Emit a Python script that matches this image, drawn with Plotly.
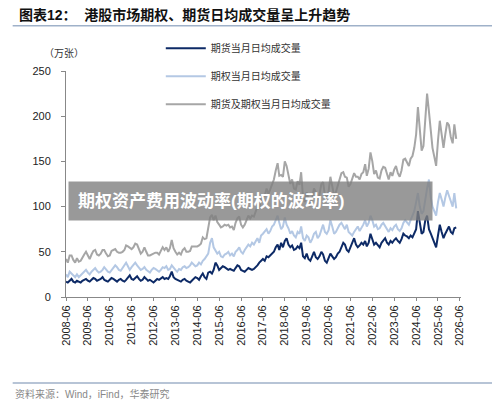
import plotly.graph_objects as go
import pandas as pd

futures = {
2008:[17,16,18,20,17,16,18],
2009:[17,16,18,19,20,18,17,19,21,20,18,19],
2010:[20,22,19,18,17,19,21,20,18,17,19,20],
2011:[18,17,19,22,24,20,19,21,23,20,18,19],
2012:[22,20,18,19,17,16,18,20,19,21,22,20],
2013:[21,20,23,28,22,20,19,18,17,19,20,18],
2014:[17,16,18,20,22,21,19,23,26,22,20,27],
2015:[28,26,30,38,35,30,32,34,33,31,30,31],
2016:[30,29,32,35,34,30,29,28,30,32,31,30],
2017:[31,33,35,38,40,42,40,45,44,46,48,50],
2018:[55,58,52,60,55,62,65,58,55,57,52,53],
2019:[56,54,60,45,43,48,42,40,45,50,44,42],
2020:[45,50,47,40,38,43,48,45,42,44,48,50],
2021:[55,60,58,52,50,55,62,65,58,55,57,60],
2022:[58,62,56,60,70,65,58,60,57,55,60,62],
2023:[65,60,58,62,60,63,65,62,60,64,70,68],
2024:[67,65,68,66,70,75,95,80,70,72,85,90],
2025:[75,70,65,60,55,68,80,72,65,70,75,78],
2026:[72,70,76,77],
}
options = {
2008:[25,22,28,26,24,22,25],
2009:[22,24,26,28,30,27,25,28,30,32,29,27],
2010:[28,30,33,30,28,27,30,32,35,33,30,29],
2011:[32,35,38,34,30,33,36,38,35,32,30,31],
2012:[33,30,28,27,30,32,31,29,28,30,33,32],
2013:[34,30,31,35,32,30,28,31,30,33,34,32],
2014:[33,35,38,36,34,35,38,36,40,42,45,48],
2015:[60,65,55,52,48,50,45,44,47,48,50,46],
2016:[48,45,50,52,55,50,48,52,55,58,56,60],
2017:[58,62,65,60,68,70,72,75,70,73,78,80],
2018:[85,90,82,75,78,88,80,76,70,73,68,66],
2019:[72,70,78,65,62,68,66,60,64,70,72,65],
2020:[68,75,80,72,70,74,85,78,70,72,76,80],
2021:[82,78,75,80,72,70,68,72,75,78,73,76],
2022:[80,85,78,82,90,85,78,80,75,76,80,82],
2023:[78,75,72,76,74,78,80,75,73,76,82,85],
2024:[82,80,85,90,95,105,115,100,92,95,110,120],
2025:[130,110,100,95,90,105,115,108,100,110,118,112],
2026:[105,100,115,98],
}
total = {
2008:[42,38,46,46,41,38,43],
2009:[39,40,44,47,50,45,42,47,51,52,47,46],
2010:[48,52,52,48,45,46,51,52,53,50,49,49],
2011:[50,52,57,56,54,53,55,59,58,52,48,50],
2012:[55,50,46,46,47,48,49,49,47,51,55,52],
2013:[55,50,54,63,54,50,47,49,47,52,54,50],
2014:[50,51,56,56,56,56,57,59,66,64,65,75],
2015:[88,91,85,90,83,80,77,78,80,79,80,77],
2016:[78,74,82,87,89,80,77,80,85,90,87,90],
2017:[89,95,100,98,108,112,112,120,114,119,126,130],
2018:[140,148,134,135,133,150,145,134,125,130,120,119],
2019:[128,124,138,110,105,116,108,100,109,120,116,107],
2020:[113,125,127,112,108,117,133,123,112,116,124,130],
2021:[137,138,133,132,122,125,130,137,133,133,130,136],
2022:[138,147,134,142,160,150,136,140,132,131,140,144],
2023:[143,135,130,138,134,141,145,137,133,140,152,153],
2024:[149,145,153,156,165,180,210,180,162,167,195,225],
2025:[205,180,165,155,145,173,195,180,165,180,193,190],
2026:[177,170,191,175],
}
names = ["期货当月日均成交量", "期权当月日均成交量", "期货及期权当月日均成交量"]
colors = ["#0d2a66", "#b4c8e4", "#a6a6a6"]
tick_labels = [f"{y}-06" for y in range(2008, 2027)]

def flatten(d):
    xs, ys = [], []
    for yr, vals in d.items():
        start = 6 if yr == 2008 else 1
        for i, v in enumerate(vals):
            xs.append(f"{yr}-{start+i:02d}-01")
            ys.append(v)
    return xs, ys

fig = go.Figure()
for i, (d, n, c) in enumerate(zip([futures, options, total], names, colors)):
    xs, ys = flatten(d)
    fig.add_trace(go.Scatter(x=xs, y=ys, name=n, mode="lines", legendgroup=f"g{i}",
                             line=dict(color=c, width=2)))

font = "Liberation Sans, Noto Sans CJK SC"
fig.update_layout(
    width=500, height=406, margin=dict(l=58, r=47, t=63, b=117, autoexpand=False),
    paper_bgcolor="white", plot_bgcolor="white",
    font=dict(family=font, size=11, color="#222"),
    showlegend=True,
    legend=dict(x=0.24, y=1.165, xanchor="left", yanchor="top", bgcolor="rgba(0,0,0,0)",
                font=dict(size=10, color="#333"), tracegroupgap=9, itemwidth=40),
    xaxis=dict(type="date", range=["2008-06-01", "2026-06-20"], automargin=False,
               tickvals=[t + "-01" for t in tick_labels], ticktext=tick_labels,
               tickangle=-90, showgrid=False, showline=True, linecolor="#888",
               ticks="outside", ticklen=3, tickcolor="#888", tickfont=dict(size=11)),
    yaxis=dict(range=[0, 250], dtick=50, showgrid=False, showline=True, linecolor="#888", automargin=False,
               ticks="outside", ticklen=4, tickcolor="#888", tickfont=dict(size=11), ticklabelstandoff=8),
    annotations=[
        dict(text="<b>图表12：  港股市场期权、期货日均成交量呈上升趋势</b>", xref="paper", yref="paper",
             x=-0.125, y=1.248, xanchor="left", yanchor="middle", showarrow=False,
             font=dict(size=14, color="#111")),
        dict(text="（万张）", xref="paper", yref="paper", x=-0.06, y=1.11, xanchor="left",
             showarrow=False, font=dict(size=10, color="#333")),
        dict(text="资料来源：Wind，iFind，华泰研究", xref="paper", yref="paper", x=-0.135, y=-0.43,
             xanchor="left", yanchor="middle", showarrow=False, font=dict(size=10, color="#888")),
        dict(text="<b>期权资产费用波动率(期权的波动率)</b>", xref="paper", yref="paper", x=0.005, y=0.425,
             xanchor="left", yanchor="middle", showarrow=False, bgcolor="rgba(128,128,128,0.8)",
             borderpad=9, width=345, align="left", font=dict(size=17, color="white")),
    ],
    shapes=[
        dict(type="line", xref="paper", yref="paper", x0=-0.135, x1=1.08, y0=1.2, y1=1.2,
             line=dict(color="#9fb1c9", width=1.5)),
        dict(type="line", xref="paper", yref="paper", x0=-0.135, x1=1.08, y0=-0.38, y1=-0.38,
             line=dict(color="#9fb1c9", width=1.5)),
    ],
)
fig.write_html("out.html")
